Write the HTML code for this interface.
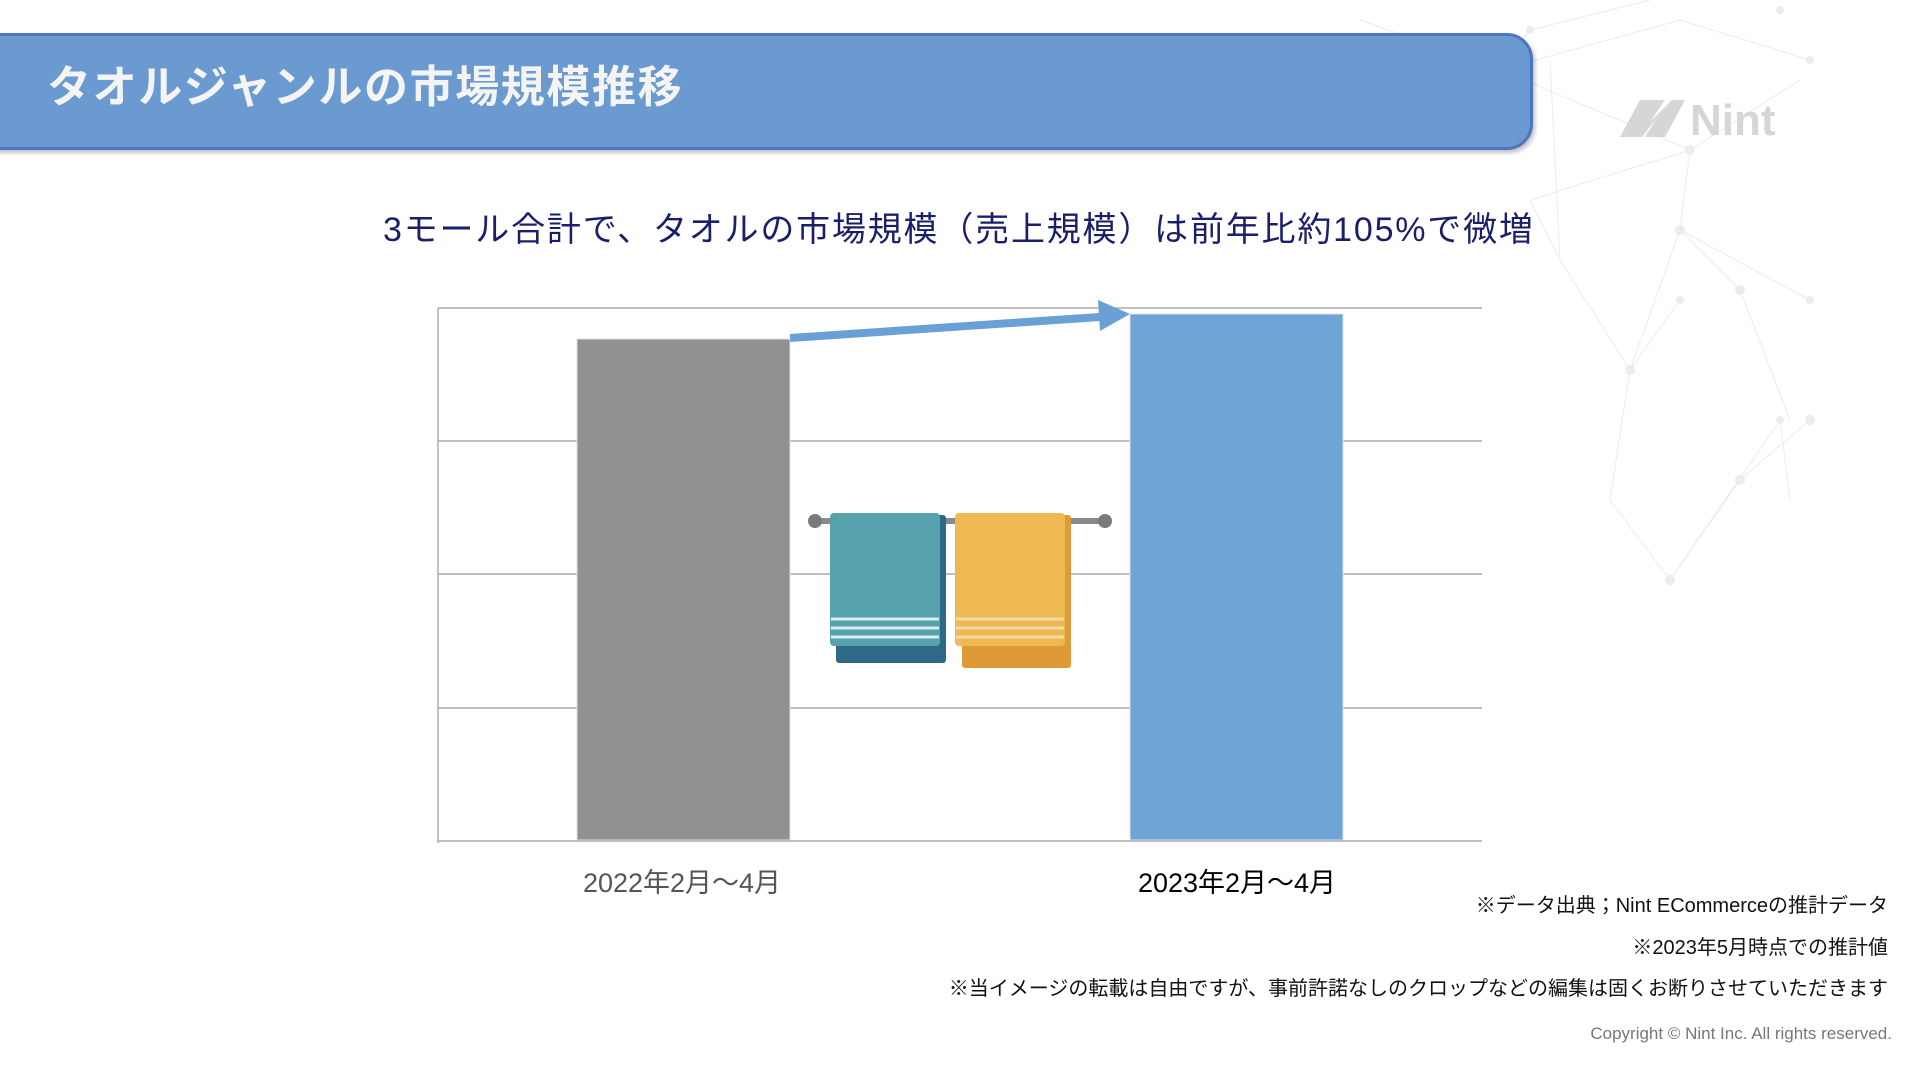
<!DOCTYPE html>
<html><head><meta charset="utf-8"><style>
*{margin:0;padding:0;box-sizing:border-box}
body{width:1920px;height:1080px;background:#fff;position:relative;overflow:hidden;font-family:"Liberation Sans","Noto Sans CJK JP",sans-serif}
.hdr{position:absolute;left:-20px;top:33px;width:1553px;height:117px;background:#6a9acf;border:3px solid #4f74c2;border-radius:0 26px 26px 0;box-shadow:2px 3px 4px rgba(0,0,0,.25)}
.ttl{position:absolute;left:47px;top:62px;font-size:44px;font-weight:bold;color:#f4f4f4;line-height:52px;letter-spacing:1.6px}
.sub{position:absolute;left:383px;top:208px;font-size:34px;color:#1a1f6b;line-height:44px;white-space:nowrap;letter-spacing:1.8px}
.lab{position:absolute;font-size:27px;line-height:32px;white-space:nowrap;transform:translateX(-50%)}
.note{position:absolute;right:32px;font-size:20px;color:#111;white-space:nowrap}
</style></head><body>
<svg width="1920" height="1080" style="position:absolute;left:0;top:0">
<g stroke="#ececec" stroke-width="1" fill="none">
<path d="M1360 20 L1500 70 L1680 20 L1810 60 M1500 70 L1530 30 L1650 0 M1500 70 L1690 150 L1800 80 M1690 150 L1680 230 L1810 300 M1680 230 L1740 290 L1790 420 M1680 230 L1630 370 L1680 300 M1630 370 L1610 500 L1670 580 L1740 480 L1810 420 M1670 580 L1780 420 M1530 200 L1690 150 M1530 200 L1560 260 L1630 370 M1550 60 L1560 260 M1780 420 L1790 500"/>
</g>
<g fill="#ececec">
<circle cx="1500" cy="70" r="5"/><circle cx="1690" cy="150" r="5"/><circle cx="1680" cy="230" r="5"/><circle cx="1630" cy="370" r="5"/><circle cx="1810" cy="300" r="4"/><circle cx="1740" cy="290" r="5"/><circle cx="1810" cy="420" r="5"/><circle cx="1670" cy="580" r="5"/><circle cx="1740" cy="480" r="5"/><circle cx="1780" cy="420" r="4"/><circle cx="1810" cy="60" r="4"/><circle cx="1530" cy="30" r="4"/><circle cx="1780" cy="10" r="4"/><circle cx="1680" cy="300" r="4"/>
</g>
<text x="1690" y="135" font-family="Liberation Sans" font-weight="bold" font-size="44" fill="#d6d6d6">Nint</text>
<path d="M1620 137 L1640 100 L1665 100 L1650 122 L1672 100 L1685 100 L1665 137 L1645 137 L1658 116 L1642 137 Z" fill="#d6d6d6"/>
<g stroke="#9a9a9a" stroke-width="1.2">
<line x1="438" y1="308" x2="1482" y2="308"/><line x1="438" y1="441" x2="1482" y2="441"/><line x1="438" y1="574" x2="1482" y2="574"/><line x1="438" y1="708" x2="1482" y2="708"/><line x1="438" y1="841" x2="1482" y2="841"/>
<line x1="438" y1="308" x2="438" y2="843"/>
</g>
<rect x="577" y="339" width="213" height="501" fill="#919191" stroke="#e0e0e0" stroke-width="1"/>
<rect x="1130" y="314" width="213" height="526" fill="#6fa4d6" stroke="#e0e0e0" stroke-width="1"/>
<line x1="790" y1="338" x2="1100" y2="317" stroke="#6aa0d6" stroke-width="8"/>
<polygon points="1098,300 1130,314 1100,331" fill="#6aa0d6"/>
<line x1="815" y1="521" x2="1105" y2="521" stroke="#8a8a8a" stroke-width="6"/>
<circle cx="815" cy="521" r="7" fill="#7a7a7a"/><circle cx="1105" cy="521" r="7" fill="#7a7a7a"/>
<rect x="836" y="515" width="110" height="148" rx="3" fill="#2e6a88"/>
<rect x="830" y="513" width="110" height="133" rx="4" fill="#58a2ae"/>
<g stroke="#d8eef0" stroke-width="3"><line x1="831" y1="619" x2="939" y2="619"/><line x1="831" y1="628" x2="939" y2="628"/><line x1="831" y1="637" x2="939" y2="637"/></g>
<rect x="962" y="515" width="109" height="153" rx="3" fill="#de9a36"/>
<rect x="955" y="513" width="110" height="133" rx="4" fill="#eeb952"/>
<g stroke="#f6dca4" stroke-width="3"><line x1="956" y1="619" x2="1064" y2="619"/><line x1="956" y1="628" x2="1064" y2="628"/><line x1="956" y1="637" x2="1064" y2="637"/></g>
</svg>
<div class="hdr"></div>
<div class="ttl">タオルジャンルの市場規模推移</div>
<div class="sub">3モール合計で、タオルの市場規模（売上規模）は前年比約105%で微増</div>
<div class="lab" style="left:682px;top:867px;color:#555">2022年2月～4月</div>
<div class="lab" style="left:1237px;top:867px;color:#000">2023年2月～4月</div>
<div class="note" style="top:889px">※データ出典；Nint ECommerceの推計データ</div>
<div class="note" style="top:931px">※2023年5月時点での推計値</div>
<div class="note" style="top:972px">※当イメージの転載は自由ですが、事前許諾なしのクロップなどの編集は固くお断りさせていただきます</div>
<div class="note" style="top:1024px;right:28px;font-size:17px;color:#777">Copyright © Nint Inc. All rights reserved.</div>
</body></html>
